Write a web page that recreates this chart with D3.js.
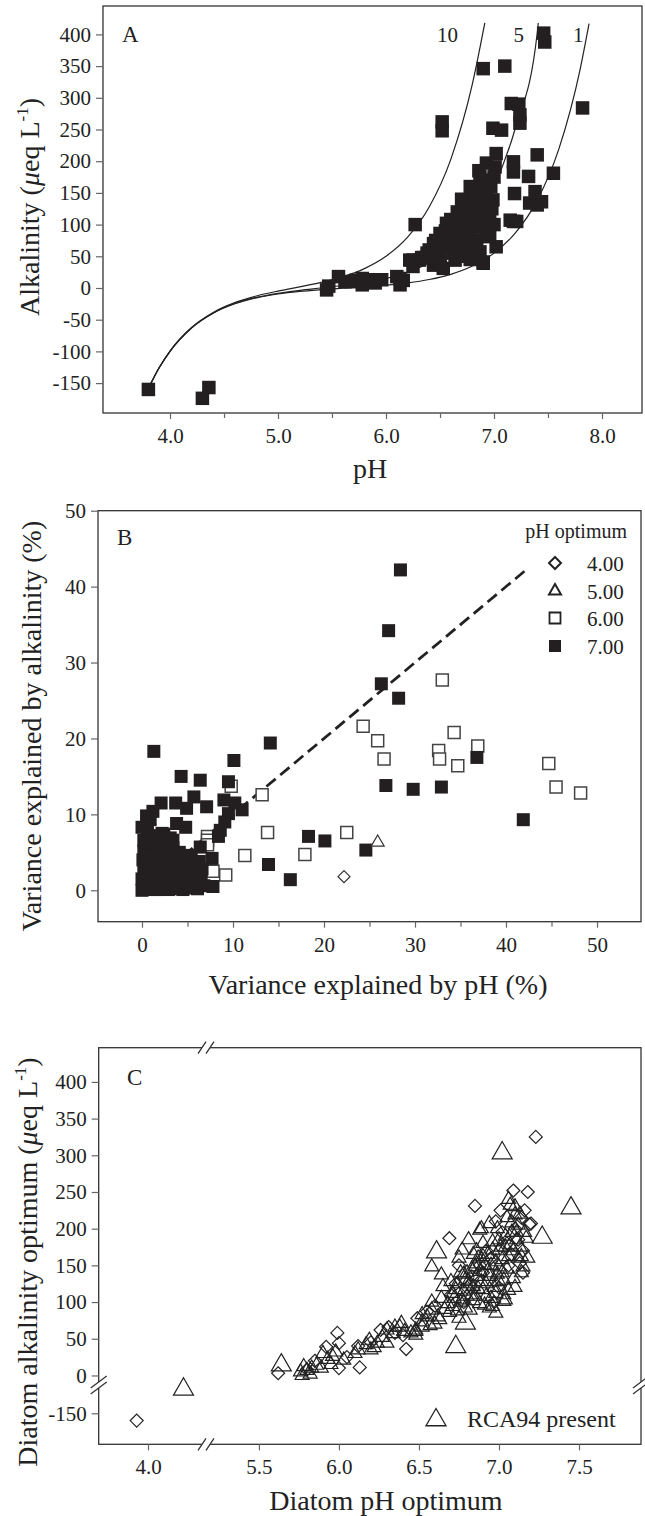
<!DOCTYPE html>
<html><head><meta charset="utf-8">
<script src="https://cdn.jsdelivr.net/npm/d3@7"></script>
<style>
body{margin:0;background:#fff;}
svg text{font-family:"Liberation Serif","Times New Roman",serif;fill:#222;}
</style></head>
<body>
<svg id="chart" width="645" height="1516"></svg>
<script>
// ---------------- DATA ----------------
// Panel A: lake pH vs alkalinity (µeq/L)
const lakePH  = [3.80,4.30,4.36,5.45,5.47,5.56,5.62,5.67,5.72,5.78,5.78,5.87,5.90,5.96,6.10,6.13,6.13,6.16,
 6.22,6.25,6.25,6.27,6.31,6.33,6.38,6.44,6.44,6.47,6.50,6.50,6.50,6.53,6.56,6.56,6.59,6.64,6.65,6.69,6.72,6.72,
 6.74,6.76,6.78,6.81,6.84,6.84,6.87,6.87,6.87,6.90,6.90,6.93,6.93,6.93,6.96,6.96,6.99,6.99,7.01,7.02,7.02,7.07,
 7.15,7.18,7.18,7.18,7.19,7.21,7.16,7.24,7.24,7.23,7.32,7.33,7.38,7.40,7.40,7.44,7.46,7.47,7.55,7.82,6.90,7.10,
 6.52,6.52,6.62,6.68,6.70,6.75,6.80,6.82,6.85,6.88,6.91,6.95,6.98,7.00,6.80,6.62,6.70,6.78,
 6.35,6.40,6.46,6.55,6.60,6.66,6.70,6.74,6.77,6.80,6.83,6.86,6.89,6.92,6.95,6.97,7.00,6.60,6.68,6.73];
const lakeAlk = [-160,-174,-157,-3,3,18,10,10,12,15,5,13,8,13,18,15,5,12,
 44,34,44,100,44,48,55,70,36,65,86,49,39,31,102,65,81,44,97,60,76,139,
 97,123,160,139,97,76,176,118,57,39,41,197,139,91,112,81,139,252,191,212,65,249,
 107,199,183,105,149,105,291,273,260,290,176,134,152,210,131,136,402,388,181,284,346,350,
 262,248,88,110,90,105,120,150,130,165,155,170,125,100,60,55,70,45,
 48,60,75,90,108,120,140,110,90,105,150,185,125,110,135,160,175,75,50,65];

// Panel A: reference curves (pH, alkalinity)
const curvePH   = [3.8,3.9,4.0,4.2,4.4,4.6,4.8,5.0,5.2,5.4,5.6,5.8,6.0,6.2,6.4,6.6,6.8,7.0,7.2,7.4,7.6,7.8,7.88];
const curve10Alk = [-158,-125.5,-99.5,-62.3,-38.5,-23.1,-12.6,-4.9,1.8,8.8,17.8,30.6,50,80.2,127.7,202.8,321.8,null,null,null,null,null,null];
const curve5Alk  = [-158.4,-125.8,-99.8,-62.8,-39.4,-24.5,-14.8,-8.4,-3.8,0,3.9,8.5,15,24.7,39.8,63.4,100.8,160,253.6,401.9,null,null,null];
const curve1Alk  = [-158.5,-125.9,-99.9,-63,-39.7,-24.9,-15.5,-9.45,-5.4,-2.6,-0.3,1.9,4.5,8.1,13.4,21.6,34.6,55,87.2,138.2,219,347,417];
const curveEnds  = [[6.915,418],[7.41,418],null];
const curveNames = ["10","5","1"];

// Panel B: variance explained (%) by pH (x) and by alkalinity (y), grouped by pH optimum
const opt7X = [28.4,27.1,26.3,28.2,26.8,29.8,32.9,36.8,14.1,1.3,10.1,4.3,6.4,9.5,41.9,18.3,20.1,13.9,16.3,24.6,
 2.1,3.7,5.7,4.9,7.1,9.0,10.2,11.0,1.2,0.9,3.8,4.8,9.5,9.1,8.6,8.4,0.2,2.2,3.4,6.4,7.7,7.8,6.0,4.2,
 0,0.5,1,1.5,2,2.5,3,3.5,4,4.6,5,0.3,0.8,1.3,2,2.8,3.6,0.2,1,1.6,2.6,4.1,5.2,5.8,5.4,0.5,1.8,0.6,2.8,3,0,0.1,1.2,2.2,3.3,4.4,5.5,6.6,1.7,0.4,
 0.1,0.7,1.4,2.1,2.9,3.7,4.5,5.3,6.1,6.8,0.4,1.1,1.9,2.6,3.4,4.2,5.0,5.8,6.5,0.2,0.9,1.6,2.4,3.2,4.0,4.8,5.6,6.3,0.6,1.3,2.0,2.7,3.4,0.3,1.0,1.7,2.4,3.1,0.0,0.5];
const opt7Y = [42.2,34.2,27.2,25.3,13.8,13.3,13.6,17.5,19.4,18.3,17.1,15.0,14.5,14.3,9.3,7.1,6.5,3.4,1.4,5.3,
 11.5,11.5,12.3,10.8,11.0,11.9,11.5,10.6,10.4,9.3,8.8,8.3,10.1,9.0,7.9,7.1,6.6,7.5,6.6,5.7,4.2,0.5,0.5,1.4,
 0,1.2,0.3,2,0.8,0.2,1.6,0.6,2.8,0.9,0.3,3,4.2,3.4,4.6,3.2,4,5.2,6,5.2,5.6,5,3,2,4.6,2.1,7.2,8,6.5,2.5,1.5,4,1,2.5,0.3,3.6,1.2,2.8,0.1,0.5,
 0.1,0.2,0.1,0.3,0.1,0.2,0.1,0.4,0.2,0.6,1.5,1.8,1.3,1.9,1.2,1.9,1.7,1.0,1.6,2.9,3.2,2.7,3.5,3.1,3.4,2.6,3.3,3.8,4.4,4.7,5.3,4.9,5.6,6.4,7.1,6.2,7.4,6.9,8.3,9.8];
const opt6X = [33.0,24.3,25.9,26.6,34.3,32.6,32.7,34.7,36.9,44.7,45.5,48.2,13.2,9.8,13.8,22.5,11.3,17.9,9.2,7.2,7.2,7.2,6.6,7.8];
const opt6Y = [27.7,21.6,19.7,17.3,20.8,18.4,17.3,16.4,19.0,16.7,13.6,12.8,12.6,13.7,7.6,7.6,4.6,4.7,2.0,7.1,6.6,6.0,4.2,2.5];
const opt5X = [25.9], opt5Y = [6.3];
const opt4X = [22.2], opt4Y = [1.8];
const legendB = ["4.00","5.00","6.00","7.00"];
const oneToOne = [[0,0],[42.3,42.3]];

// Panel C: diatom optima
const diaPH  = [7.23,3.93,6.85,6.69,7.09,7.18,7.16,7.19,5.99,6.00,6.42,6.13,5.62,5.92,7.01,7.13,6.00,6.12,6.26,6.31,6.49,6.55,6.35,7.20,
 6.95,7.05,7.10,6.90,7.15,6.80,6.98,7.12,7.08,6.60,6.70,6.75,7.15,5.80,5.85,6.05,6.20,6.40,
 6.88,6.92,7.02,7.06,6.78,6.83,7.00,6.97,6.73,7.14];
const diaAlk = [325,-160,231,187,252,250,225,206,58,44,36,11,3,39,225,153,10,40,62,66,78,87,58,207,
 160,180,200,140,170,120,210,185,165,95,110,150,140,8,20,25,45,55,
 150,170,195,150,100,135,120,100,125,215];
const rcaPH  = [7.02,7.45,7.27,6.61,6.73,4.22,5.64,6.79,
 5.76,5.80,5.83,5.89,5.96,5.98,6.03,6.12,5.77,5.78,5.82,5.86,5.93,
 6.17,6.20,6.19,6.24,6.30,6.30,6.35,6.39,6.34,6.38,6.48,6.48,6.52,6.52,6.55,6.58,6.58,6.63,6.52,6.48,6.41,
 6.64,6.65,6.58,6.77,6.81,6.89,6.94,7.07,7.10,7.17,7.10,6.88,
 6.73,6.79,6.85,6.90,6.96,7.00,6.84,6.77,6.71,6.90,6.94,7.00,7.06,7.04,7.11,6.88,6.98,6.82,6.98,7.03,6.94,7.03,7.06,7.15,7.14,7.03,6.96,7.04,7.09,6.69,6.75,6.85,6.92,6.80,6.95,7.00,7.08,7.12,6.87,6.83,6.78,6.72,6.66,6.62,6.70,6.75,7.13,7.18,7.02,6.90,6.99,7.05,6.86,6.82,6.95,7.10,7.14,
 6.68,6.71,6.74,6.76,6.78,6.80,6.81,6.83,6.84,6.86,6.87,6.88,6.89,6.91,6.92,6.93,6.94,6.96,6.97,6.98,6.99,7.01,7.02,7.04,7.05,7.07,7.08,7.09,7.11,7.12,7.13,7.16,7.06,6.86,6.79,6.74,6.91,6.97,7.00,6.84,6.76,6.64,6.60,6.57,6.45,6.27,6.22,6.10,5.95,5.90];
const rcaAlk = [303,228,188,168,39,-117,14,71,
 5,7,10,10,26,32,21,35,0,12,2,14,22,
 42,35,48,44,62,44,66,71,57,66,62,60,73,66,80,89,100,76,83,55,60,
 137,121,148,171,185,200,207,232,219,187,230,198,
 117,130,148,162,171,185,121,103,94,117,135,148,162,175,185,98,112,89,85,110,92,101,116,148,162,130,94,103,132,86,78,108,125,140,150,170,195,205,160,110,115,105,90,80,128,160,175,160,140,180,200,215,135,125,105,120,140,
 98,112,125,100,138,108,128,145,102,152,118,142,128,150,108,165,140,182,128,155,138,175,158,190,145,178,208,170,195,160,220,195,240,170,92,88,96,120,128,165,140,105,70,68,58,52,38,30,15,30];
// relative abundance class of each RCA94 taxon (drives the triangle size)
const rcaAbund = [3,3,3,3,3,3,3,3].concat(new Array(rcaPH.length-8).fill(1));

const tickA_y = [-150,-100,-50,0,50,100,150,200,250,300,350,400];
const tickA_x = [4,5,6,7,8];
const tickA_xMinor = [4.5,5.5,6.5,7.5];
const tickB = [0,10,20,30,40,50];
const tickB_minor = [5,15,25,35,45];
const tickC_y = [-150,0,50,100,150,200,250,300,350,400];
const tickC_x = [4.0,5.5,6.0,6.5,7.0,7.5];

// ---------------- DRAW ----------------
const svg = d3.select("#chart");
svg.append("rect").attr("width",645).attr("height",1516).attr("fill","#fff");
const INK = "#222", FRAME = "#333", TICK = "#666";
const plain = d=>String(d);

function frame(x0,y0,x1,y1){
  svg.append("rect").attr("x",x0).attr("y",y0).attr("width",x1-x0).attr("height",y1-y0)
     .attr("fill","none").attr("stroke",FRAME).attr("stroke-width",1.3);
}
function styleAxis(g){
  g.select(".domain").remove();
  g.selectAll(".tick line").attr("stroke",TICK).attr("stroke-width",1.2);
  g.selectAll(".tick text").attr("font-size",21).attr("fill","#222")
   .attr("font-family",'"Liberation Serif",serif');
}
const sq = (s)=>d3.symbol().type(d3.symbolSquare).size(s*s)();
const diamond = (r)=>`M0,${-r}L${r},0L0,${r}L${-r},0Z`;
const tri = (w)=>d3.symbol().type(d3.symbolTriangle).size(Math.sqrt(3)/4*w*w)();

// ======== Panel A ========
const xA = d3.scaleLinear().domain([4,8]).range([170,602]);
const yA = d3.scaleLinear().domain([-150,400]).range([383.1,34.4]);
frame(103,6,642,413);
svg.append("g").attr("transform","translate(103,0)")
  .call(d3.axisLeft(yA).tickValues(tickA_y).tickFormat(plain).tickSize(7).tickPadding(5)).call(styleAxis);
svg.append("g").attr("transform","translate(0,413)")
  .call(d3.axisBottom(xA).tickValues(tickA_x).tickFormat(d3.format(".1f")).tickSize(6).tickPadding(9)).call(styleAxis);
svg.append("g").attr("transform","translate(0,413)")
  .call(d3.axisBottom(xA).tickValues(tickA_xMinor).tickFormat("").tickSize(5)).call(styleAxis);

const lineA = d3.line().x(d=>xA(d[0])).y(d=>yA(d[1])).curve(d3.curveMonotoneX);
[curve10Alk,curve5Alk,curve1Alk].forEach((arr,i)=>{
  const pts = curvePH.map((p,j)=>[p,arr[j]]).filter(d=>d[1]!==null);
  if(curveEnds[i]) pts.push(curveEnds[i]);
  svg.append("path").attr("d",lineA(pts)).attr("fill","none").attr("stroke",INK).attr("stroke-width",1.2);
});
const curveLabelPH = [6.57,7.23,7.78];
curveNames.forEach((n,i)=>{
  svg.append("text").attr("x",xA(curveLabelPH[i])).attr("y",42).attr("font-size",21)
     .attr("text-anchor","middle").text(n);
});
svg.append("g").selectAll("path").data(lakePH.map((p,i)=>[p,lakeAlk[i]])).join("path")
  .attr("d",sq(13.5)).attr("transform",d=>`translate(${xA(d[0])},${yA(d[1])})`).attr("fill","#231f20");
svg.append("text").attr("x",122).attr("y",42).attr("font-size",23).text("A");
svg.append("text").attr("x",370).attr("y",478).attr("font-size",28).attr("text-anchor","middle").text("pH");
{
  const t = svg.append("text").attr("transform","translate(39,207) rotate(-90)").attr("font-size",28).attr("text-anchor","middle");
  t.append("tspan").text("Alkalinity (");
  t.append("tspan").attr("font-style","italic").text("μ");
  t.append("tspan").text("eq L");
  t.append("tspan").attr("font-size",17).attr("dy",-11).text("-1");
  t.append("tspan").attr("dy",11).text(")");
}

// ======== Panel B ========
const xB = d3.scaleLinear().domain([0,50]).range([142,597]);
const yB = d3.scaleLinear().domain([0,50]).range([890.3,510.7]);
frame(98,510.7,641,921.7);
svg.append("g").attr("transform","translate(98,0)")
  .call(d3.axisLeft(yB).tickValues(tickB).tickFormat(plain).tickSize(7).tickPadding(5)).call(styleAxis);
svg.append("g").attr("transform","translate(0,921.7)")
  .call(d3.axisBottom(xB).tickValues(tickB).tickFormat(plain).tickSize(6).tickPadding(9)).call(styleAxis);
svg.append("g").attr("transform","translate(0,921.7)")
  .call(d3.axisBottom(xB).tickValues(tickB_minor).tickFormat("").tickSize(5)).call(styleAxis);

svg.append("path").attr("d",d3.line().x(d=>xB(d[0])).y(d=>yB(d[1]))(oneToOne))
  .attr("stroke",INK).attr("stroke-width",2.8).attr("stroke-dasharray","12,6").attr("fill","none");
svg.append("g").selectAll("path").data(opt6X.map((x,i)=>[x,opt6Y[i]])).join("path")
  .attr("d",sq(12)).attr("transform",d=>`translate(${xB(d[0])},${yB(d[1])})`)
  .attr("fill","#fff").attr("stroke","#444").attr("stroke-width",1.5);
svg.append("g").selectAll("path").data(opt7X.map((x,i)=>[x,opt7Y[i]])).join("path")
  .attr("d",sq(13)).attr("transform",d=>`translate(${xB(d[0])},${yB(d[1])})`).attr("fill","#231f20");
svg.append("g").selectAll("path").data(opt5X.map((x,i)=>[x,opt5Y[i]])).join("path")
  .attr("d",tri(13)).attr("transform",d=>`translate(${xB(d[0])},${yB(d[1])})`)
  .attr("fill","#fff").attr("stroke","#333").attr("stroke-width",1.2);
svg.append("g").selectAll("path").data(opt4X.map((x,i)=>[x,opt4Y[i]])).join("path")
  .attr("d",diamond(6)).attr("transform",d=>`translate(${xB(d[0])},${yB(d[1])})`)
  .attr("fill","#fff").attr("stroke","#333").attr("stroke-width",1.2);
svg.append("text").attr("x",117).attr("y",545).attr("font-size",23).text("B");
svg.append("text").attr("x",627).attr("y",538).attr("font-size",20).attr("text-anchor","end").text("pH optimum");
const legY = [563,591,618,646];
const legSym = [
  g=>g.append("path").attr("d",diamond(6)).attr("fill","#fff").attr("stroke","#222").attr("stroke-width",2),
  g=>g.append("path").attr("d",tri(12)).attr("fill","#fff").attr("stroke","#222").attr("stroke-width",2),
  g=>g.append("path").attr("d",sq(11)).attr("fill","#fff").attr("stroke","#222").attr("stroke-width",1.8),
  g=>g.append("path").attr("d",sq(12)).attr("fill","#231f20")
];
legendB.forEach((lab,i)=>{
  const g = svg.append("g").attr("transform",`translate(555,${legY[i]})`);
  legSym[i](g);
  svg.append("text").attr("x",587).attr("y",legY[i]+7.5).attr("font-size",21).text(lab);
});
svg.append("text").attr("x",378).attr("y",994).attr("font-size",28).attr("text-anchor","middle").text("Variance explained by pH (%)");
svg.append("text").attr("transform","translate(41,726) rotate(-90)").attr("font-size",28).attr("text-anchor","middle")
  .text("Variance explained by alkalinity (%)");

// ======== Panel C ========
const xC = d3.scaleLinear().domain([4.0,4.37,5.18,7.5]).range([148,207.7,207.7,579]);
const yC = d3.scaleLinear().domain([-150,-111,-13,400]).range([1413.3,1385,1385,1081.9]);
frame(98.7,1047.7,641,1444.3);
svg.append("g").attr("transform","translate(98.7,0)")
  .call(d3.axisLeft(yC).tickValues(tickC_y).tickFormat(plain).tickSize(7).tickPadding(5)).call(styleAxis);
svg.append("g").attr("transform","translate(0,1444.3)")
  .call(d3.axisBottom(xC).tickValues(tickC_x).tickFormat(d3.format(".1f")).tickSize(6).tickPadding(9)).call(styleAxis);

function brk(cx,cy,horiz){
  const g = svg.append("g").attr("transform",`translate(${cx},${cy})`);
  if(horiz){
    g.append("path").attr("d","M-10,6L-2,-6L6,-6L-2,6Z").attr("fill","#fff");
    g.append("path").attr("d","M-10,6L-2,-6M-2,6L6,-6").attr("stroke","#333").attr("stroke-width",1.3);
  } else {
    g.append("path").attr("d","M-8,6L8,-6L8,0L-8,12Z").attr("fill","#fff");
    g.append("path").attr("d","M-8,6L8,-6M-8,12L8,0").attr("stroke","#333").attr("stroke-width",1.3);
  }
}
brk(208,1047.7,true); brk(208,1444.3,true);
brk(98.7,1382,false); brk(641,1382,false);

svg.append("g").selectAll("path").data(diaPH.map((p,i)=>[p,diaAlk[i]])).join("path")
  .attr("d",diamond(6.5)).attr("transform",d=>`translate(${xC(d[0])},${yC(d[1])})`)
  .attr("fill","none").attr("stroke","#222").attr("stroke-width",1.2);
const triW = d3.scaleLinear().domain([1,3]).range([14,20]);
svg.append("g").selectAll("path").data(rcaPH.map((p,i)=>[p,rcaAlk[i],rcaAbund[i]])).join("path")
  .attr("d",d=>tri(triW(d[2]))).attr("transform",d=>`translate(${xC(d[0])},${yC(d[1])})`)
  .attr("fill","none").attr("stroke","#222").attr("stroke-width",1.2);
svg.append("text").attr("x",127).attr("y",1085).attr("font-size",23).text("C");
svg.append("path").attr("d",tri(20)).attr("transform","translate(436,1420)")
  .attr("fill","none").attr("stroke","#222").attr("stroke-width",1.3);
svg.append("text").attr("x",467).attr("y",1427).attr("font-size",24).text("RCA94 present");
svg.append("text").attr("x",386).attr("y",1510).attr("font-size",28).attr("text-anchor","middle").text("Diatom pH optimum");
{
  const t = svg.append("text").attr("transform","translate(37,1262) rotate(-90)").attr("font-size",28).attr("text-anchor","middle");
  t.append("tspan").text("Diatom alkalinity optimum (");
  t.append("tspan").attr("font-style","italic").text("μ");
  t.append("tspan").text("eq L");
  t.append("tspan").attr("font-size",17).attr("dy",-11).text("-1");
  t.append("tspan").attr("dy",11).text(")");
}
</script>
</body></html>
